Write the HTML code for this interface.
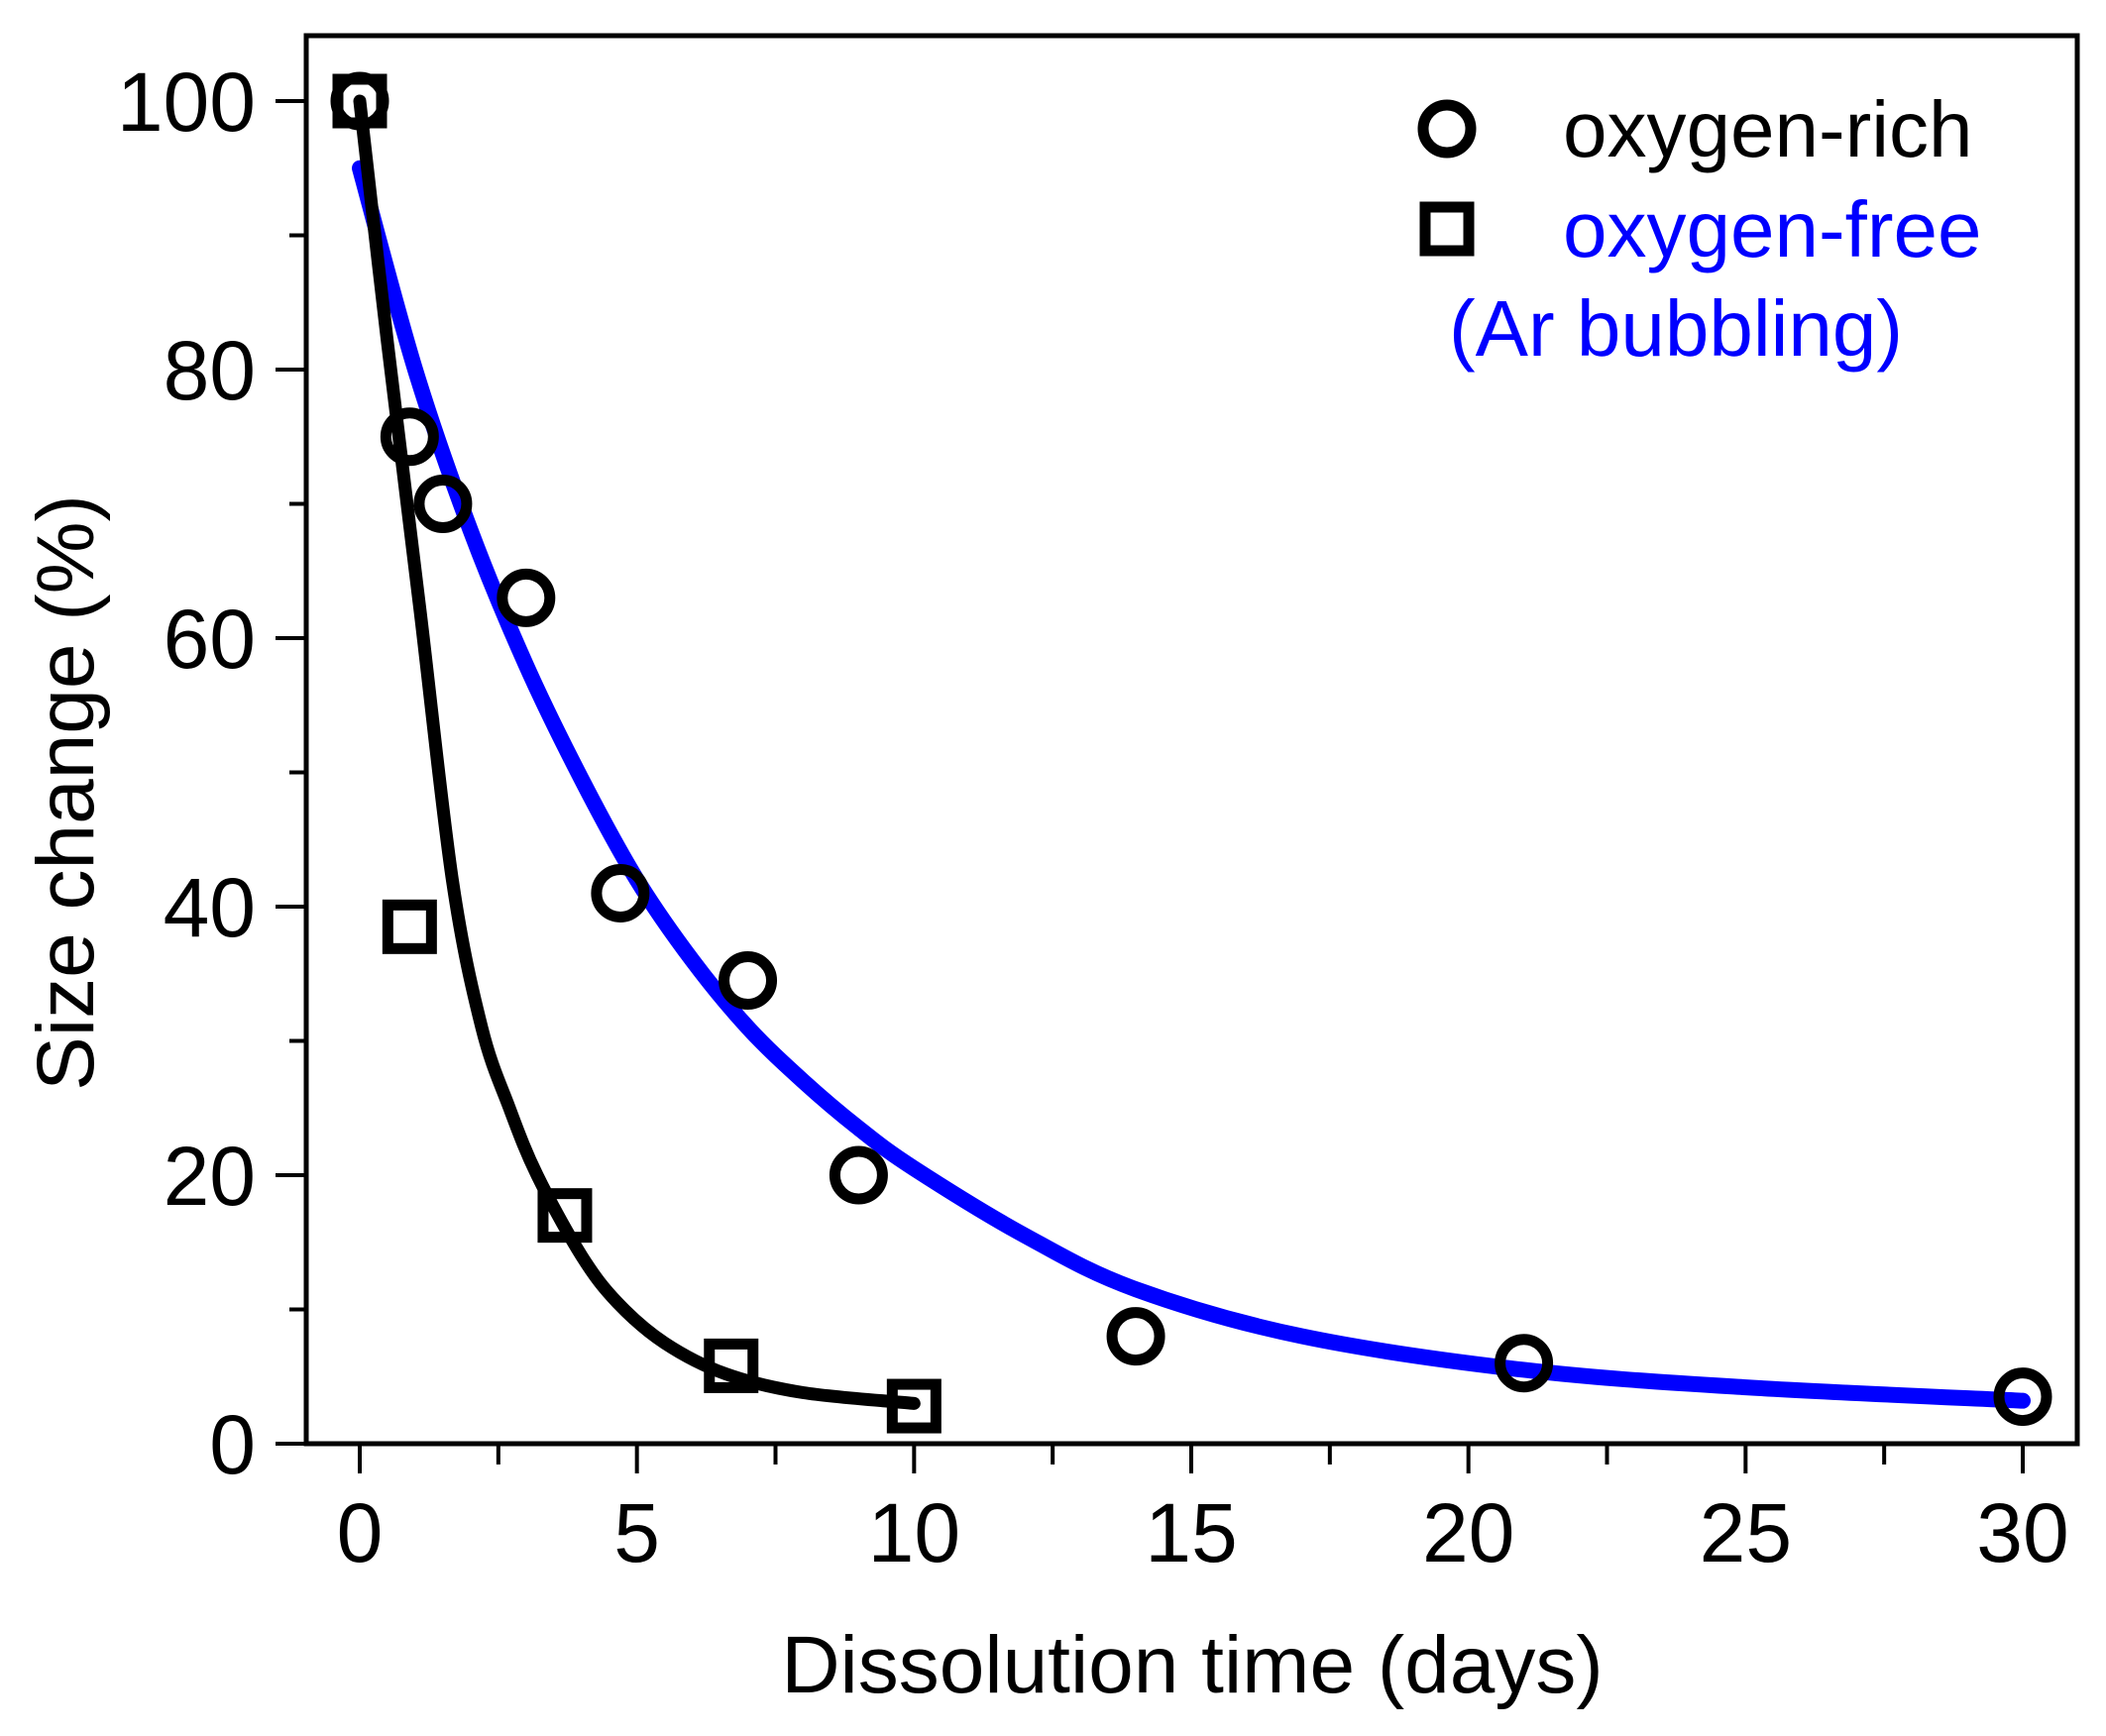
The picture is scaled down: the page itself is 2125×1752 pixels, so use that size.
<!DOCTYPE html>
<html><head><meta charset="utf-8"><style>
html,body{margin:0;padding:0;background:#fff;}
svg{display:block;font-family:"Liberation Sans",Arial,sans-serif;}
</style></head><body>
<svg id="chart" width="2125" height="1752" viewBox="0 0 2125 1752" xmlns="http://www.w3.org/2000/svg">
<rect x="0" y="0" width="2125" height="1752" fill="#fff"/>
<g id="curves"></g>
<g id="markers"></g>
<g id="axes"></g>
<g id="legend">
  <circle cx="1460" cy="130" r="24" fill="none" stroke="#000" stroke-width="11"/>
  <text x="1577" y="158" font-size="80" fill="#000">oxygen-rich</text>
  <rect x="1438" y="209" width="44" height="44" fill="none" stroke="#000" stroke-width="11"/>
  <text x="1577" y="259" font-size="80" fill="#0000ff">oxygen-free</text>
  <text x="1462" y="359" font-size="80" fill="#0000ff">(Ar bubbling)</text>
</g>
<text x="1203" y="1708" font-size="82" text-anchor="middle">Dissolution time (days)</text>
<text transform="translate(94,800) rotate(-90)" font-size="82" text-anchor="middle">Size change (%)</text>
</svg>
<script>
const xTicks = [0,5,10,15,20,25,30];
const yTicks = [0,20,40,60,80,100];
const richX = [0,0.9,1.5,3,4.7,7,9,14,21,30];
const richY = [100,75,70,63,41,34.5,20,8,6,3.5];
const freeX = [0,0.9,3.7,6.7,10];
const freeY = [100,38.5,17,5.8,2.8];
const blueFitX = [0,1,2,3,4,5,6,7,8,9,10,12,14,17,21,25,30];
const blueFitY = [95,80,68,58,49.5,42,36,31,27,23.5,20.5,15.5,11.5,8,5.5,4.2,3.2];
const blackFitX = [0,0.5,1.09,1.67,2.2,2.7,3.2,4,4.65,5.5,6.6,8,10];
const blackFitY = [100,82,62,42,31,25,20,14,10.5,7.5,5.2,3.8,3];

const X0=363, X1=2041, Y0=1457, Y1=102;
function sx(v){return X0+(v-0)/(30-0)*(X1-X0);}
function sy(v){return Y0-(v-0)/(100-0)*(Y0-Y1);}
const NS='http://www.w3.org/2000/svg';
function mk(tag,attrs,parent){const e=document.createElementNS(NS,tag);for(const k in attrs)e.setAttribute(k,attrs[k]);parent.appendChild(e);return e;}

function smoothPath(xs,ys){
  const p=xs.map((x,i)=>[sx(x),sy(ys[i])]);
  let d='M'+p[0][0]+','+p[0][1];
  for(let i=0;i<p.length-1;i++){
    const p0=p[i-1]||p[i],p1=p[i],p2=p[i+1],p3=p[i+2]||p2;
    const c1=[p1[0]+(p2[0]-p0[0])/6,p1[1]+(p2[1]-p0[1])/6];
    const c2=[p2[0]-(p3[0]-p1[0])/6,p2[1]-(p3[1]-p1[1])/6];
    d+=' C'+c1[0]+','+c1[1]+' '+c2[0]+','+c2[1]+' '+p2[0]+','+p2[1];
  }
  return d;
}
const curves=document.getElementById('curves');
const bc=mk('path',{d:smoothPath(blueFitX,blueFitY),fill:'none',stroke:'#0000ff','stroke-width':16,'stroke-linecap':'round','stroke-linejoin':'round'},curves);


const kc=mk('path',{d:smoothPath(blackFitX,blackFitY),fill:'none',stroke:'#000','stroke-width':13,'stroke-linecap':'round','stroke-linejoin':'round'},curves);



const markers=document.getElementById('markers');
richX.forEach((x,i)=>{
  const c=mk('circle',{cx:sx(x),cy:sy(richY[i]),r:24,fill:'none',stroke:'#000','stroke-width':11},markers);
  
  
});
freeX.forEach((x,i)=>{
  const r=mk('rect',{x:sx(x)-22,y:sy(freeY[i])-22,width:44,height:44,fill:'none',stroke:'#000','stroke-width':11},markers);
  
  
});

const axes=document.getElementById('axes');
const frame=mk('rect',{x:309,y:36,width:1787,height:1421,fill:'none',stroke:'#000','stroke-width':5},axes);


for(let v=0;v<=30;v+=2.5){
  const major=(v%5===0);
  const t=mk('line',{x1:sx(v),x2:sx(v),y1:1457,y2:major?1487:1478,stroke:'#000','stroke-width':4},axes);
  
  
}
for(let v=0;v<=100;v+=10){
  const major=(v%20===0);
  const t=mk('line',{x1:major?278:292,x2:309,y1:sy(v),y2:sy(v),stroke:'#000','stroke-width':4},axes);
  
  
}
xTicks.forEach(v=>{
  const t=mk('text',{x:sx(v),y:1576,'font-size':84,'text-anchor':'middle'},axes);
  t.textContent=v;
  
  
});
yTicks.forEach(v=>{
  const t=mk('text',{x:258,y:sy(v)+30,'font-size':84,'text-anchor':'end'},axes);
  t.textContent=v;
  
  
});
</script>
</body></html>
